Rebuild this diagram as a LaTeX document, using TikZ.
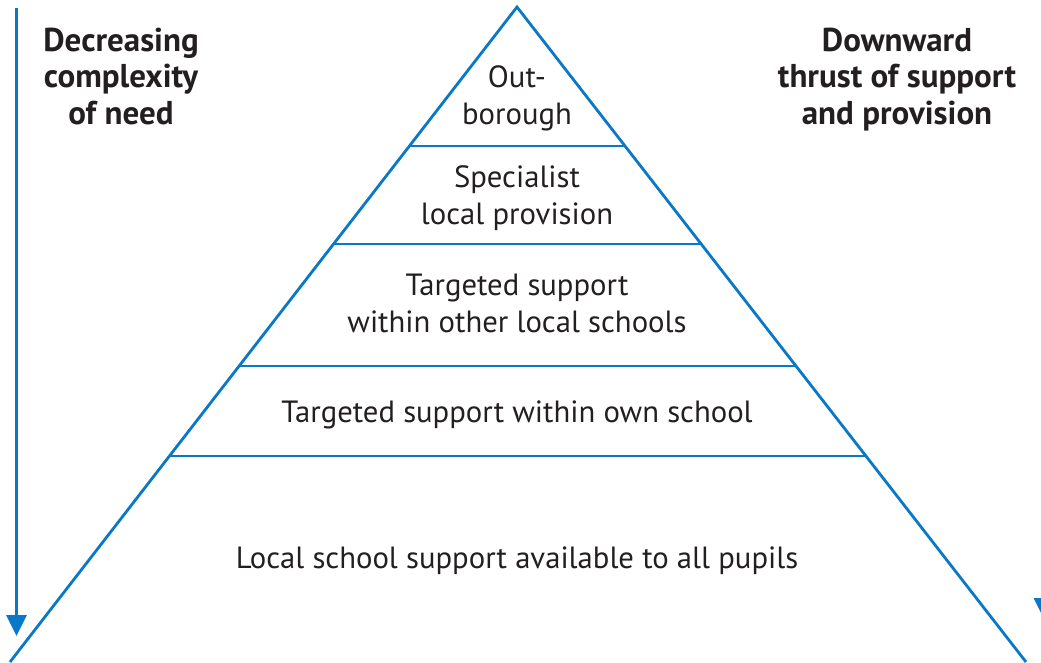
\documentclass[tikz,border=0pt]{standalone}
\usepackage{fontspec}
\setmainfont{PT Sans}
\usetikzlibrary{arrows.meta}
\definecolor{pblue}{HTML}{0A78C8}
\definecolor{ptext}{HTML}{231F20}
\tikzset{
  edge/.style={draw=pblue, line width=2.8pt, line cap=butt},
  tier/.style={text=ptext, font=\fontsize{30.7}{36.8}\selectfont, align=center, inner sep=0pt},
  head/.style={text=ptext, font=\bfseries\fontsize{33}{36.5}\selectfont, align=center, inner sep=0pt},
  down/.style={draw=pblue, line width=3pt, -{Triangle[width=20pt,length=21pt]}}
}
\begin{document}
\begin{tikzpicture}[x=1pt,y=-1pt]
\useasboundingbox (0,0) rectangle (1041,662);
\clip (0,0) rectangle (1041,662);
% pyramid
\coordinate (apex) at (517,7);
\coordinate (bl) at (10,662);
\coordinate (br) at (1026,662);
\draw[edge, line join=miter] (bl) -- (apex) -- (br);
\coordinate (l1) at (409,146); \coordinate (r1) at (625,146);
\coordinate (l2) at (333,244); \coordinate (r2) at (701,244);
\coordinate (l3) at (238,366); \coordinate (r3) at (796,366);
\coordinate (l4) at (169,456); \coordinate (r4) at (865,456);
\draw[edge] (l1) -- (r1);
\draw[edge] (l2) -- (r2);
\draw[edge] (l3) -- (r3);
\draw[edge] (l4) -- (r4);
% tier labels (anchor=base is the last line's baseline)
\node[tier, anchor=base] (t1) at (517,124) {Out-\\borough};
\node[tier, anchor=base] (t2) at (517,224) {Specialist\\local provision};
\node[tier, anchor=base] (t3) at (517,332) {Targeted support\\within other local schools};
\node[tier, anchor=base] (t4) at (517,422) {Targeted support within own school};
\node[tier, anchor=base] (t5) at (517,568) {Local school support available to all pupils};
% headings
\node[head, anchor=base] (hl) at (121,124) {Decreasing\\complexity\\of need};
\node[head, anchor=base] (hr) at (897,124) {Downward\\thrust of support\\and provision};
% arrows
\coordinate (la0) at (16.5,8); \coordinate (la1) at (16.5,636);
\coordinate (ra0) at (1044,8); \coordinate (ra1) at (1044,619);
\draw[down] (la0) -- (la1);
\draw[down] (ra0) -- (ra1);
\end{tikzpicture}
\end{document}
